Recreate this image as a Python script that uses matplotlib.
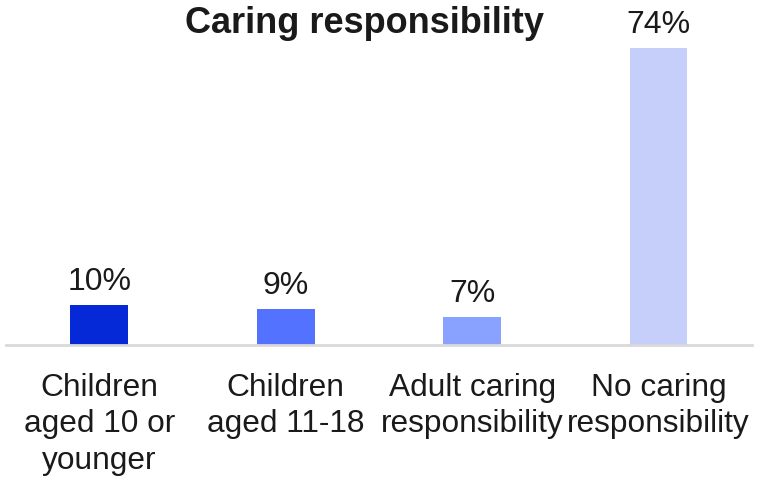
import matplotlib.pyplot as plt
import numpy as np

plt.rcParams['font.family'] = ['Liberation Sans', 'DejaVu Sans']

categories = [
    "Children\naged 10 or\nyounger",
    "Children\naged 11-18",
    "Adult caring\nresponsibility",
    "No caring\nresponsibility",
]
values = [10, 9, 7, 74]
colors = ["#0529d6", "#5272ff", "#8aa2ff", "#c5cffa"]

fig = plt.figure(figsize=(7.57, 4.86), dpi=100)
ax = fig.add_axes([0.008, 0.29, 0.985, 0.611])

x = np.arange(len(values))
bars = ax.bar(x, values, width=0.31, color=colors)

for xi, v in zip(x, values):
    ax.annotate(f"{v}%", (xi, v), xytext=(0, 6), textcoords="offset points",
                ha="center", va="bottom", fontsize=23, color="#1a1a1a")

ax.set_xlim(-0.5, 3.5)
ax.set_ylim(0, 74)
ax.set_xticks(x)
ax.set_xticklabels(categories, fontsize=22.8, color="#1a1a1a", linespacing=1.28)
ax.tick_params(axis="x", length=0, pad=20)
ax.set_yticks([])
for s in ["top", "right", "left"]:
    ax.spines[s].set_visible(False)
ax.spines["bottom"].set_color("#d9d9d9")
ax.spines["bottom"].set_linewidth(2)

fig.text(0.482, 0.952, "Caring responsibility", ha="center", va="center",
         fontsize=26, fontweight="bold", color="#1a1a1a")

fig.savefig("out.png", dpi=100)
